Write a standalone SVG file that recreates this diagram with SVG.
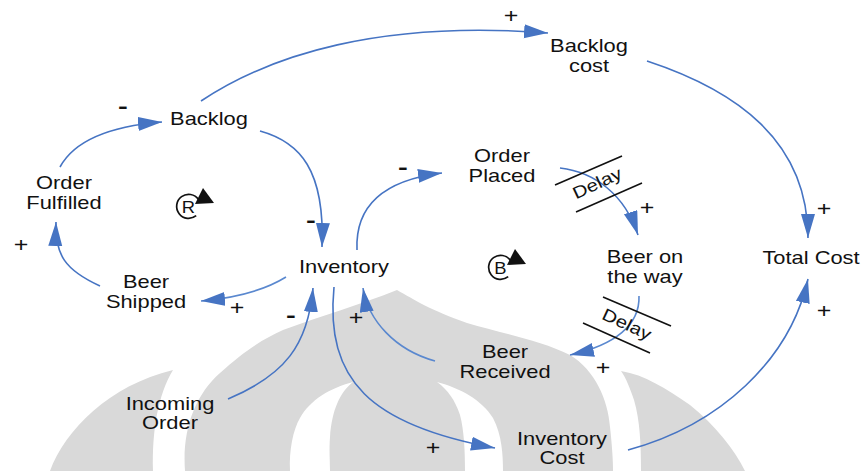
<svg xmlns="http://www.w3.org/2000/svg" width="865" height="471" viewBox="0 0 865 471">
  <style>
    .lbl { font-family: "Liberation Sans", Arial, sans-serif; font-size: 17.5px; fill: #111; text-anchor: middle; }
    .sign { font-family: "Liberation Sans", Arial, sans-serif; font-size: 20px; fill: #111; text-anchor: middle; }
    .minus { font-family: "Liberation Sans", Arial, sans-serif; font-size: 21px; font-weight: bold; fill: #111; text-anchor: middle; }
    .delay { font-family: "Liberation Sans", Arial, sans-serif; font-size: 17px; fill: #111; text-anchor: middle; }
    .loop { font-family: "Liberation Sans", Arial, sans-serif; font-size: 16px; fill: #111; text-anchor: middle; }
    .link { fill: none; stroke: #4674c3; stroke-width: 1.6; marker-end: url(#head); }
    .link.light { stroke: #5a88cf; }
    .tick { stroke: #111; stroke-width: 1.6; }
    .bg { fill: #d9d9d9; }
  </style>
  <defs>
    <marker id="head" markerUnits="userSpaceOnUse" markerWidth="26" markerHeight="16" refX="24" refY="7" orient="auto">
      <path d="M0,0 L24,7 L0,14 Z" fill="#4674c3"/>
    </marker>
  </defs>

  <rect width="865" height="471" fill="#ffffff"/>

  <!-- grey emblem in the background -->
  <g id="emblem">
    <path class="bg" d="M50,471 C65,430 110,385 173,370 C158,395 152,430 153,471 Z"/>
    <path class="bg" d="M185,471 C182,430 195,395 220,373 C245,350 265,338 283,330 C320,316 360,305 397,290 C415,300 430,310 467,323 C500,333 540,340 570,355 C595,370 608,400 610,427 C612,445 613,460 613,471 Z"/>
    <path fill="#ffffff" d="M290,471 C289,450 293,430 300,418 C310,400 330,388 353,382 C340,392 332,410 330,437 C329,450 330,460 330,471 Z"/>
    <path fill="#ffffff" d="M437,382 C460,388 482,400 493,418 C502,435 503,455 503,471 L465,471 C465,450 464,430 460,415 C455,400 448,390 437,382 Z"/>
    <path class="bg" d="M621,371 C645,375 665,388 690,405 C715,425 735,450 745,471 L641,471 C641,445 640,420 634,400 C630,388 626,378 621,371 Z"/>
  </g>

  <!-- causal links -->
  <g id="connectors">
    <path class="link" d="M60,167 C72,145 100,127 162,122"/>
    <path class="link" d="M260,131 C300,142 325,170 322,247"/>
    <path class="link" d="M201,101 C270,55 380,20 548,33"/>
    <path class="link" d="M647,61 C735,90 808,140 808,238"/>
    <path class="link" d="M357,250 C355,205 385,180 442,173"/>
    <path class="link" d="M560,168 C595,172 625,195 638,235"/>
    <path class="link light" d="M639,296 C640,325 615,345 570,355"/>
    <path class="link light" d="M435,361 C395,350 368,320 363,288"/>
    <path class="link" d="M228,399 C285,375 308,345 313,288"/>
    <path class="link light" d="M286,277 C265,290 235,298 201,301"/>
    <path class="link" d="M100,286 C65,270 55,255 56,222"/>
    <path class="link" d="M334,287 C325,380 370,425 495,448"/>
    <path class="link" d="M628,450 C720,425 790,360 808,279"/>

    <!-- delay marks -->
    <line class="tick" x1="555" y1="185" x2="622" y2="156"/>
    <line class="tick" x1="576" y1="212" x2="642" y2="183"/>
    <text class="delay" transform="translate(597,183) rotate(-25) scale(1.2,1)" y="6">Delay</text>
    <line class="tick" x1="603" y1="297" x2="671" y2="326"/>
    <line class="tick" x1="583" y1="323" x2="650" y2="353"/>
    <text class="delay" transform="translate(627,324) rotate(25) scale(1.2,1)" y="6">Delay</text>

    <!-- polarity signs -->
    <text class="minus" transform="translate(123,113) scale(1.4,1)">-</text>
    <text class="minus" transform="translate(311,227) scale(1.4,1)">-</text>
    <text class="sign" transform="translate(511,23) scale(1.25,1)">+</text>
    <text class="sign" transform="translate(824,216) scale(1.25,1)">+</text>
    <text class="minus" transform="translate(403,174) scale(1.4,1)">-</text>
    <text class="sign" transform="translate(647,215) scale(1.25,1)">+</text>
    <text class="sign" transform="translate(603,375) scale(1.25,1)">+</text>
    <text class="sign" transform="translate(356,325) scale(1.25,1)">+</text>
    <text class="minus" transform="translate(291,322) scale(1.4,1)">-</text>
    <text class="sign" transform="translate(237,315) scale(1.25,1)">+</text>
    <text class="sign" transform="translate(21,252) scale(1.25,1)">+</text>
    <text class="sign" transform="translate(433,455) scale(1.25,1)">+</text>
    <text class="sign" transform="translate(824,318) scale(1.25,1)">+</text>
  </g>

  <!-- loop markers -->
  <g id="loop-R">
    <path d="M196.2,215.7 A12,12 0 1 1 198.5,199.5" fill="none" stroke="#111" stroke-width="1.7"/>
    <path d="M195,204 L203,188 L214,203 Z" fill="#111"/>
    <text class="loop" transform="translate(188.5,212.5) scale(1.15,1)">R</text>
  </g>
  <g id="loop-B">
    <path d="M508.2,276.7 A12,12 0 1 1 510.5,260.5" fill="none" stroke="#111" stroke-width="1.7"/>
    <path d="M507,265 L515,249 L526,264 Z" fill="#111"/>
    <text class="loop" transform="translate(500.5,273.5) scale(1.15,1)">B</text>
  </g>

  <!-- variables -->
  <g id="backlog"><text class="lbl" transform="translate(209,125) scale(1.25,1)">Backlog</text></g>
  <g id="order-fulfilled">
    <text class="lbl" transform="translate(64,189) scale(1.25,1)">Order</text>
    <text class="lbl" transform="translate(64,209) scale(1.25,1)">Fulfilled</text>
  </g>
  <g id="backlog-cost">
    <text class="lbl" transform="translate(589,52) scale(1.25,1)">Backlog</text>
    <text class="lbl" transform="translate(589,72) scale(1.25,1)">cost</text>
  </g>
  <g id="order-placed">
    <text class="lbl" transform="translate(502,162) scale(1.25,1)">Order</text>
    <text class="lbl" transform="translate(502,182) scale(1.25,1)">Placed</text>
  </g>
  <g id="inventory"><text class="lbl" transform="translate(344,273) scale(1.25,1)">Inventory</text></g>
  <g id="beer-shipped">
    <text class="lbl" transform="translate(146,288) scale(1.25,1)">Beer</text>
    <text class="lbl" transform="translate(146,308) scale(1.25,1)">Shipped</text>
  </g>
  <g id="incoming-order">
    <text class="lbl" transform="translate(170,410) scale(1.25,1)">Incoming</text>
    <text class="lbl" transform="translate(170,429) scale(1.25,1)">Order</text>
  </g>
  <g id="beer-on-the-way">
    <text class="lbl" transform="translate(645,263) scale(1.25,1)">Beer on</text>
    <text class="lbl" transform="translate(645,283) scale(1.25,1)">the way</text>
  </g>
  <g id="total-cost"><text class="lbl" transform="translate(811,264) scale(1.25,1)">Total Cost</text></g>
  <g id="beer-received">
    <text class="lbl" transform="translate(505,358) scale(1.25,1)">Beer</text>
    <text class="lbl" transform="translate(505,378) scale(1.25,1)">Received</text>
  </g>
  <g id="inventory-cost">
    <text class="lbl" transform="translate(562,445) scale(1.25,1)">Inventory</text>
    <text class="lbl" transform="translate(562,464) scale(1.25,1)">Cost</text>
  </g>
</svg>
